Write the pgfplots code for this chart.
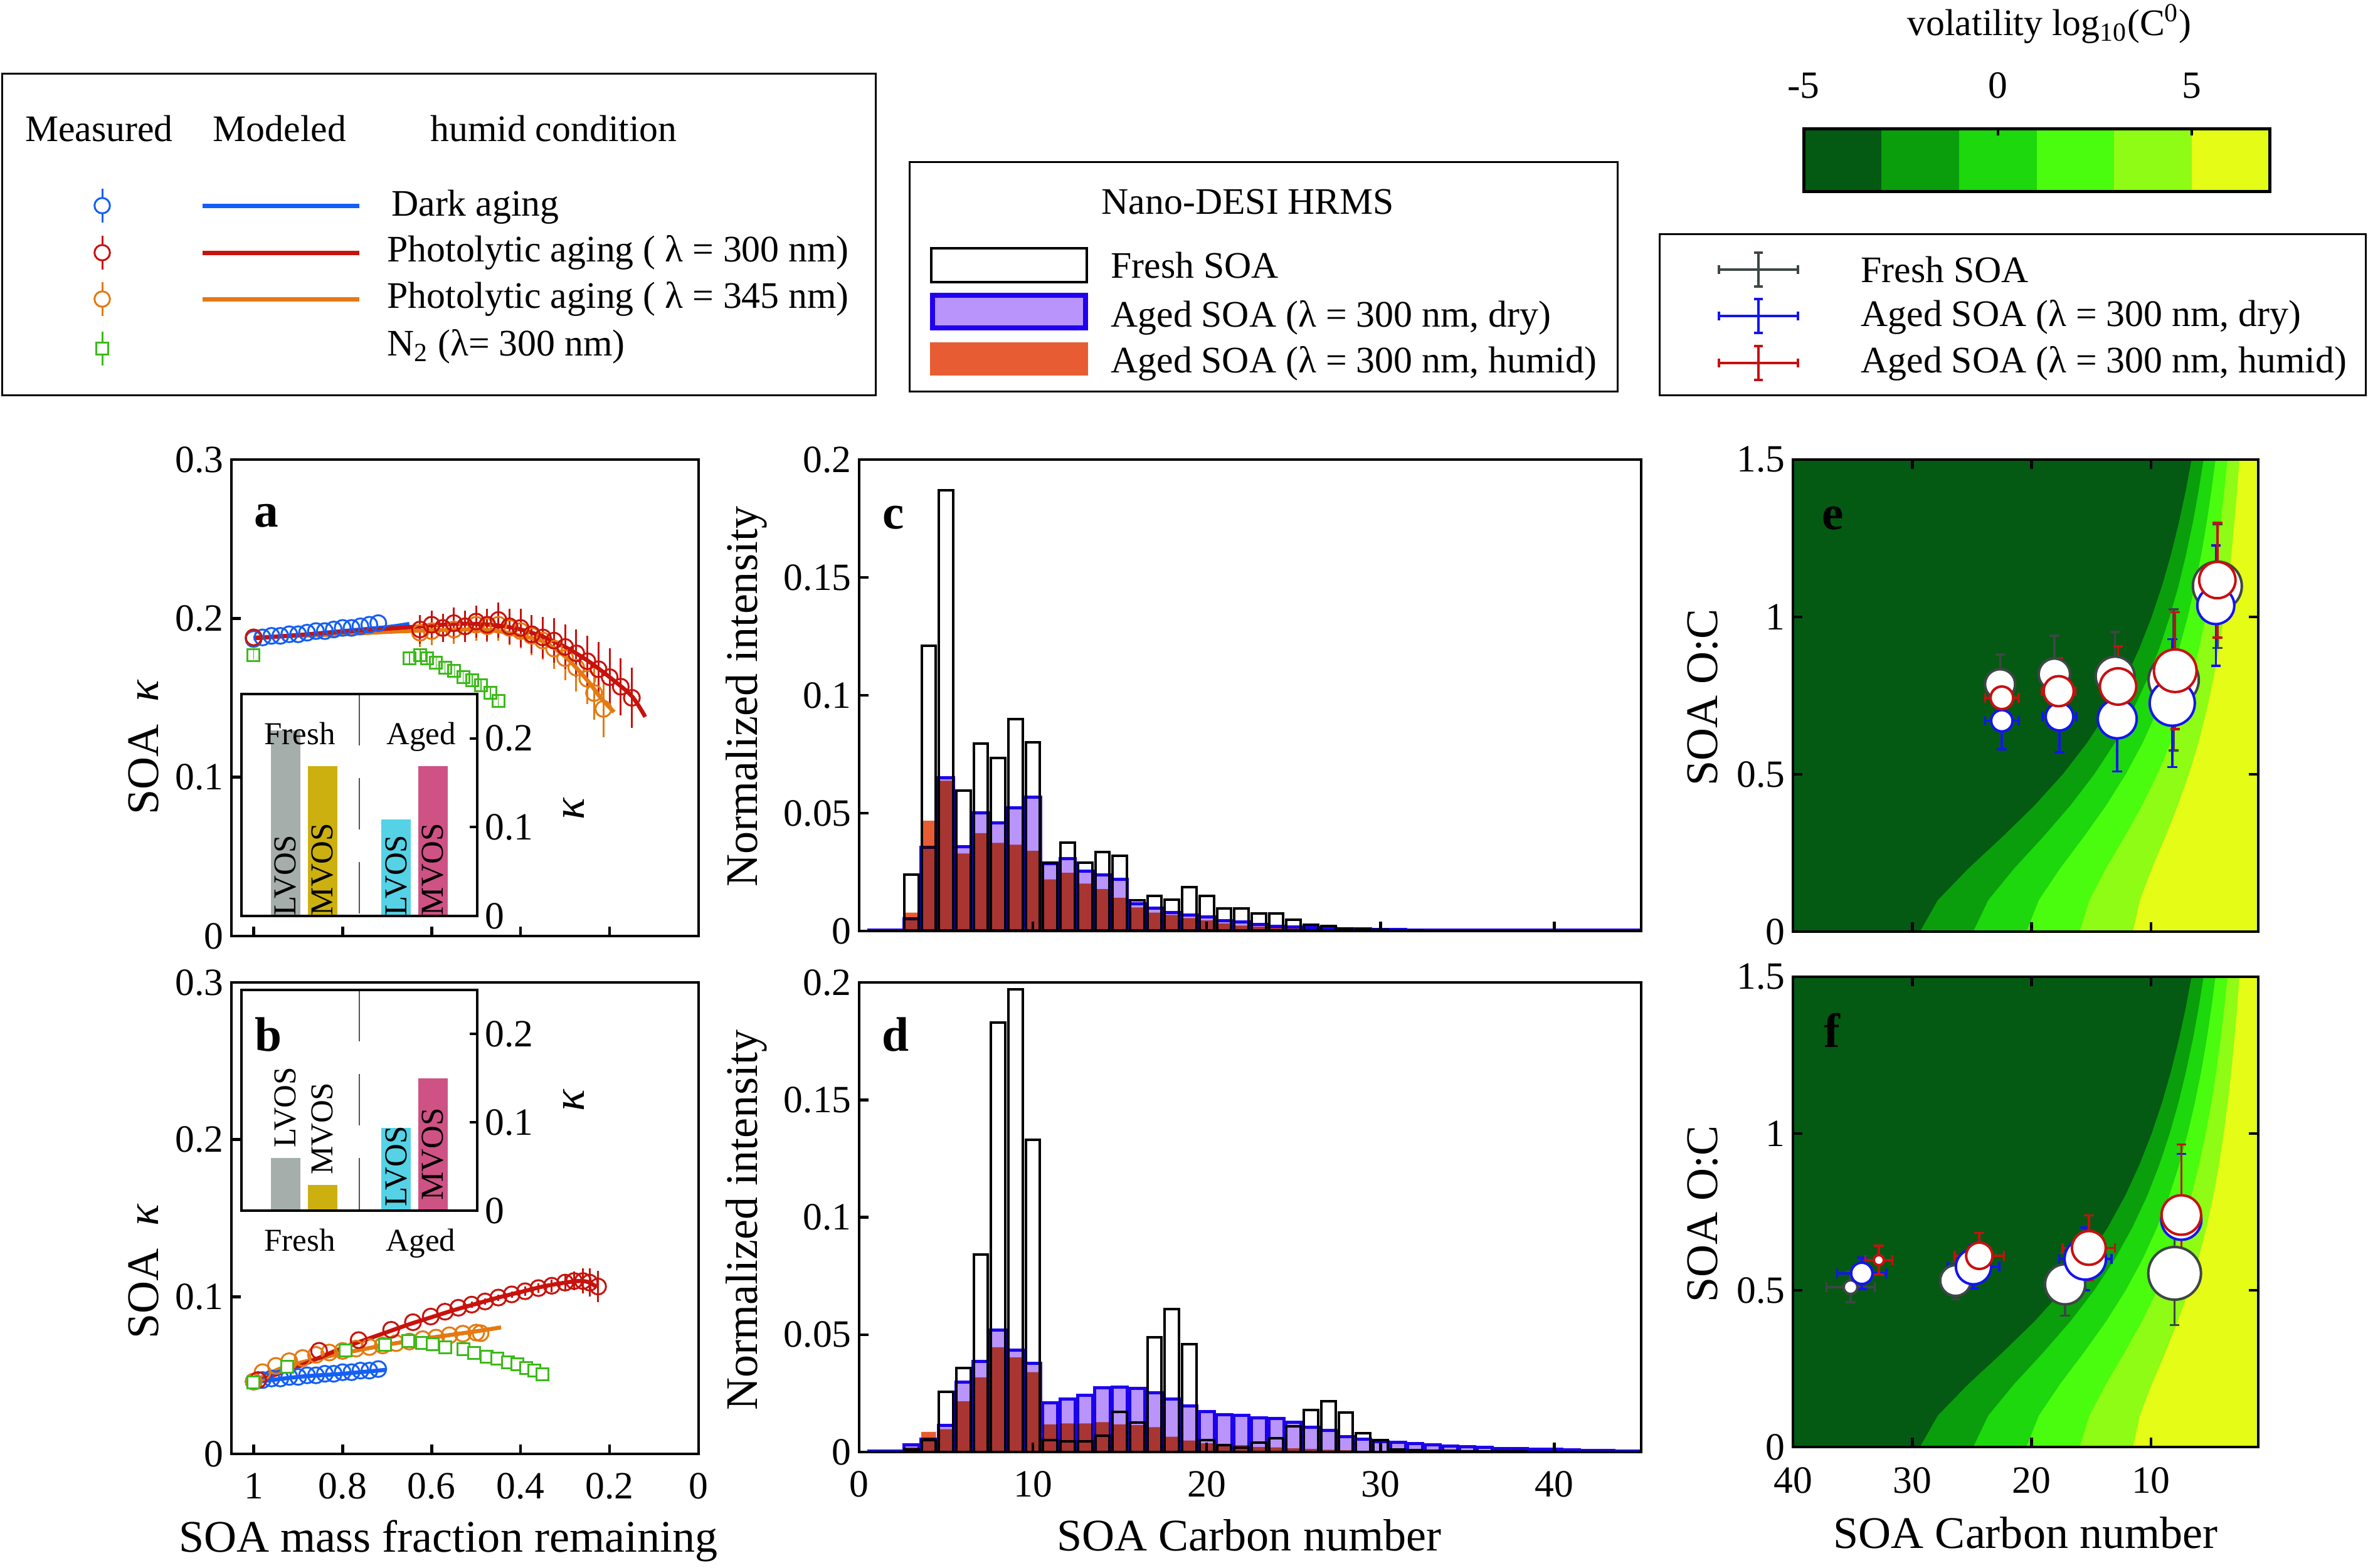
\documentclass[border=0pt]{standalone}
\usepackage{fontspec}
\setmainfont{Liberation Serif}
\usepackage{pgfplots}
\pgfplotsset{compat=1.18}
\usepackage{pgfplotstable}

% ---------- colours ----------
\definecolor{darkline}{RGB}{20,95,245}
\definecolor{uvred}{RGB}{200,18,12}
\definecolor{uvorange}{RGB}{228,122,18}
\definecolor{ntwo}{RGB}{60,186,26}
\definecolor{dryedge}{RGB}{32,0,240}
\definecolor{dryfill}{RGB}{185,148,250}
\definecolor{humidfill}{RGB}{232,92,52}
\definecolor{lvosgray}{RGB}{165,174,170}
\definecolor{mvosgold}{RGB}{204,176,16}
\definecolor{lvoscyan}{RGB}{86,210,230}
\definecolor{mvospink}{RGB}{207,82,133}
\definecolor{freshgray}{RGB}{62,70,70}
\definecolor{dryblue}{RGB}{20,20,240}
\definecolor{humidred}{RGB}{200,16,16}
\definecolor{sepgray}{RGB}{80,88,88}
\definecolor{volA}{RGB}{4,90,18}
\definecolor{volB}{RGB}{10,158,12}
\definecolor{volC}{RGB}{28,216,12}
\definecolor{volD}{RGB}{74,252,14}
\definecolor{volE}{RGB}{142,252,20}
\definecolor{volF}{RGB}{228,252,22}

% ---------- fonts ----------
\newcommand\tickfont{\fontsize{17.5pt}{20pt}\selectfont}
\newcommand\labfont{\fontsize{20.5pt}{24pt}\selectfont}
\newcommand\legfont{\fontsize{17pt}{20pt}\selectfont}
\newcommand\insetfont{\fontsize{14.5pt}{17pt}\selectfont}
\newcommand\panelfont{\fontsize{22pt}{26pt}\selectfont\bfseries}

% ---------- styles ----------
\pgfplotsset{
  panel/.style={scale only axis, anchor=north west, axis on top, clip=true,
    axis line style={line width=0.45mm},
    tick align=inside, major tick length=1.5mm,
    every tick/.style={black, line width=0.45mm},
    tick label style={font=\tickfont}},
  inset/.style={scale only axis, anchor=north west, axis on top, clip=true,
    axis background/.style={fill=white},
    xmin=0, xmax=8, ymin=0, ymax=0.25, xtick=\empty,
    ytick={0,0.1,0.2}, yticklabels={0,0.1,0.2},
    ytick pos=right, yticklabel pos=right,
    tick align=inside, major tick length=1.2mm,
    every tick/.style={black, line width=0.4mm},
    axis line style={line width=0.4mm},
    tick label style={font=\tickfont}},
  meas/.style={only marks, mark=o, mark size=3.6pt, line width=0.3mm},
  model/.style={line width=0.65mm, smooth},
}

% ---------- panel a : kappa vs mass fraction remaining ----------
\pgfplotstableread{
x y
1.00 0.187
0.98 0.188
0.96 0.189
0.94 0.189
0.92 0.190
0.90 0.190
0.88 0.191
0.86 0.192
0.84 0.192
0.82 0.193
0.80 0.194
0.78 0.194
0.76 0.195
0.74 0.196
0.72 0.197
}\aDark
\pgfplotstableread{
x y e
1.000 0.188 0.000
0.626 0.193 0.009
0.600 0.196 0.009
0.575 0.194 0.009
0.550 0.197 0.010
0.525 0.195 0.010
0.500 0.198 0.010
0.475 0.196 0.010
0.450 0.199 0.011
0.425 0.195 0.011
0.400 0.194 0.012
0.375 0.190 0.012
0.350 0.188 0.013
0.325 0.186 0.014
0.300 0.182 0.014
0.275 0.178 0.015
0.250 0.173 0.016
0.225 0.168 0.017
0.200 0.163 0.018
0.175 0.157 0.018
0.150 0.150 0.019
}\aRed
\pgfplotstableread{
x y e
1.000 0.188 0.000
0.626 0.191 0.009
0.600 0.192 0.009
0.575 0.194 0.009
0.550 0.193 0.009
0.525 0.195 0.010
0.500 0.196 0.010
0.475 0.195 0.010
0.450 0.196 0.010
0.425 0.194 0.011
0.400 0.192 0.011
0.375 0.189 0.012
0.350 0.186 0.012
0.325 0.181 0.013
0.300 0.175 0.014
0.275 0.169 0.015
0.250 0.162 0.016
0.235 0.153 0.017
0.214 0.143 0.018
}\aOrange
\pgfplotstableread{
x y e
1.000 0.177 0.003
0.650 0.175 0.004
0.626 0.177 0.004
0.610 0.175 0.004
0.590 0.172 0.004
0.570 0.169 0.004
0.549 0.167 0.004
0.529 0.163 0.004
0.509 0.161 0.004
0.489 0.158 0.004
0.468 0.153 0.004
0.450 0.148 0.004
}\aNtwo

% ---------- panel b ----------
\pgfplotstableread{
x y
1.00 0.046
0.98 0.047
0.96 0.048
0.94 0.048
0.92 0.049
0.90 0.049
0.88 0.050
0.86 0.050
0.84 0.051
0.82 0.051
0.80 0.052
0.78 0.052
0.76 0.053
0.74 0.053
0.72 0.054
}\bDark
\pgfplotstableread{
x y e
0.990 0.0470 0.000
0.853 0.0656 0.000
0.764 0.0724 0.000
0.691 0.0790 0.000
0.642 0.0838 0.000
0.602 0.0874 0.000
0.570 0.0905 0.000
0.540 0.0930 0.000
0.510 0.0950 0.002
0.480 0.0970 0.002
0.450 0.0995 0.002
0.420 0.1015 0.002
0.390 0.1035 0.003
0.360 0.1055 0.003
0.330 0.1070 0.004
0.300 0.1090 0.005
0.280 0.1100 0.006
0.260 0.1100 0.008
0.245 0.1090 0.009
0.226 0.1065 0.010
}\bRed
\pgfplotstableread{
x y
1.00 0.0460
0.98 0.0520
0.95 0.0560
0.92 0.0590
0.89 0.0610
0.86 0.0630
0.83 0.0645
0.80 0.0655
0.77 0.0670
0.74 0.0680
0.71 0.0690
0.68 0.0705
0.65 0.0715
0.62 0.0730
0.59 0.0740
0.56 0.0755
0.53 0.0765
0.50 0.0772
0.49 0.0768
}\bOrange
\pgfplotstableread{
x y
1.000 0.0455
0.924 0.0555
0.794 0.0660
0.705 0.0695
0.653 0.0717
0.621 0.0705
0.598 0.0697
0.570 0.0680
0.529 0.0668
0.505 0.0644
0.477 0.0620
0.452 0.0608
0.428 0.0584
0.408 0.0571
0.388 0.0547
0.369 0.0530
0.351 0.0506
}\bNtwo

% ---------- panels c, d : carbon number distributions (fresh, dry, humid) ----------
\pgfplotstableread{
c f d h
1 0 0.0003 0
2 0 0.0003 0
3 0.0240 0.0052 0.0078
4 0.1210 0.0356 0.0468
5 0.1870 0.0650 0.0637
6 0.0596 0.0359 0.0329
7 0.0795 0.0500 0.0415
8 0.0733 0.0459 0.0374
9 0.0900 0.0523 0.0366
10 0.0800 0.0568 0.0340
11 0.0290 0.0285 0.0219
12 0.0374 0.0308 0.0247
13 0.0290 0.0253 0.0201
14 0.0336 0.0237 0.0178
15 0.0320 0.0219 0.0141
16 0.0130 0.0116 0.0100
17 0.0150 0.0096 0.0078
18 0.0133 0.0079 0.0068
19 0.0185 0.0068 0.0055
20 0.0150 0.0059 0.0045
21 0.0096 0.0045 0.0032
22 0.0096 0.0038 0.0023
23 0.0075 0.0027 0.0018
24 0.0075 0.0020 0.0014
25 0.0048 0.0016 0.0011
26 0.0027 0.0014 0.0008
27 0.0020 0.0012 0.0006
28 0.0011 0.0010 0.0005
29 0.0009 0.0008 0.0004
30 0.0005 0.0007 0.0003
31 0.0003 0.0006 0.0002
32 0.0002 0.0005 0.0002
33 0.0001 0.0004 0.0001
34 0.0001 0.0004 0.0001
35 0 0.0003 0
36 0 0.0003 0
37 0 0.0003 0
38 0 0.0003 0
39 0 0.0003 0
40 0 0.0003 0
41 0 0.0003 0
42 0 0.0003 0
43 0 0.0003 0
44 0 0.0003 0
45 0 0.0003 0
}\cData
\pgfplotstableread{
c f d h
1 0 0.0003 0
2 0 0.0005 0
3 0.0010 0.0030 0.0020
4 0.0050 0.0054 0.0086
5 0.0256 0.0114 0.0097
6 0.0357 0.0297 0.0216
7 0.0840 0.0386 0.0318
8 0.1830 0.0520 0.0446
9 0.1970 0.0435 0.0403
10 0.1330 0.0378 0.0340
11 0.0050 0.0210 0.0118
12 0.0045 0.0227 0.0122
13 0.0045 0.0243 0.0122
14 0.0070 0.0273 0.0127
15 0.0170 0.0276 0.0118
16 0.0125 0.0270 0.0115
17 0.0490 0.0253 0.0106
18 0.0610 0.0227 0.0065
19 0.0460 0.0195 0.0049
20 0.0050 0.0172 0.0037
21 0.0030 0.0160 0.0034
22 0.0020 0.0156 0.0029
23 0.0040 0.0146 0.0021
24 0.0060 0.0143 0.0020
25 0.0110 0.0127 0.0016
26 0.0180 0.0106 0.0013
27 0.0216 0.0091 0.0010
28 0.0167 0.0065 0.0008
29 0.0080 0.0054 0.0006
30 0.0050 0.0045 0.0005
31 0.0010 0.0042 0.0004
32 0.0008 0.0036 0.0003
33 0.0006 0.0030 0.0003
34 0.0005 0.0026 0.0002
35 0.0004 0.0023 0.0002
36 0.0003 0.0020 0.0001
37 0.0002 0.0016 0.0001
38 0.0002 0.0015 0.0001
39 0.0001 0.0013 0
40 0.0001 0.0011 0
41 0 0.0010 0
42 0 0.0008 0
43 0 0.0006 0
44 0 0.0005 0
45 0 0.0004 0
}\dData

% ---------- panels e, f : O:C vs carbon number (r = marker radius in pt) ----------
\pgfplotstableread{
x y ex ey r
22.64 0.786 0 0.094 6.83
18.09 0.818 0 0.122 7.11
13.00 0.812 0 0.140 8.82
8.09 0.800 0 0.224 11.38
4.43 1.098 0 0.197 11.10
}\eFresh
\pgfplotstableread{
x y ex ey r
22.49 0.670 1.41 0.090 4.84
17.66 0.683 1.42 0.113 6.26
12.82 0.676 0 0.167 8.82
8.21 0.726 0 0.203 10.24
4.56 1.036 0 0.191 8.39
}\eDry
\pgfplotstableread{
x y ex ey r
22.49 0.743 1.41 0.089 5.12
17.73 0.764 1.42 0.106 6.83
12.75 0.779 0 0.127 8.25
7.96 0.829 0 0.186 9.67
4.43 1.117 0 0.183 8.25
}\eHumid
\pgfplotstableread{
x y ex ey r
35.17 0.510 2.02 0.048 3.13
26.37 0.531 0 0.060 6.97
17.19 0.519 0 0.100 9.10
8.01 0.554 0 0.165 11.95
}\fFresh
\pgfplotstableread{
x y ex ey r
34.23 0.554 2.06 0.050 4.84
24.87 0.575 2.15 0.070 7.97
15.50 0.600 2.20 0.100 9.39
7.45 0.725 0 0.210 9.10
}\fDry
\pgfplotstableread{
x y ex ey r
32.80 0.596 1.12 0.046 2.28
24.38 0.610 2.06 0.073 5.98
15.20 0.635 2.20 0.104 7.68
7.45 0.740 0 0.225 8.96
}\fHumid

% volatility bins: boundaries log10(C0) = -3, -1, 1, 3, 5 in (carbon number, O:C)
\newcommand\volregions{%
\addplot[fill=volB, draw=none, forget plot] coordinates {(29.35,0) (27.86,0.1) (25.31,0.2) (22.47,0.3) (19.77,0.4) (17.38,0.5) (15.34,0.6) (13.62,0.7) (12.17,0.8) (10.96,0.9) (9.93,1.0) (9.05,1.1) (8.30,1.2) (7.65,1.3) (7.08,1.4) (6.59,1.5) (0,1.5) (0,0)} -- cycle;
\addplot[fill=volC, draw=none, forget plot] coordinates {(24.89,0) (23.63,0.1) (21.47,0.2) (19.05,0.3) (16.76,0.4) (14.74,0.5) (13.01,0.6) (11.55,0.7) (10.32,0.8) (9.29,0.9) (8.42,1.0) (7.67,1.1) (7.04,1.2) (6.48,1.3) (6.00,1.4) (5.58,1.5) (0,1.5) (0,0)} -- cycle;
\addplot[fill=volD, draw=none, forget plot] coordinates {(20.43,0) (19.39,0.1) (17.62,0.2) (15.64,0.3) (13.76,0.4) (12.10,0.5) (10.68,0.6) (9.48,0.7) (8.47,0.8) (7.63,0.9) (6.91,1.0) (6.30,1.1) (5.77,1.2) (5.32,1.3) (4.93,1.4) (4.58,1.5) (0,1.5) (0,0)} -- cycle;
\addplot[fill=volE, draw=none, forget plot] coordinates {(15.97,0) (15.15,0.1) (13.77,0.2) (12.22,0.3) (10.75,0.4) (9.45,0.5) (8.34,0.6) (7.41,0.7) (6.62,0.8) (5.96,0.9) (5.40,1.0) (4.92,1.1) (4.51,1.2) (4.16,1.3) (3.85,1.4) (3.58,1.5) (0,1.5) (0,0)} -- cycle;
\addplot[fill=volF, draw=none, forget plot] coordinates {(11.50,0) (10.92,0.1) (9.92,0.2) (8.80,0.3) (7.75,0.4) (6.81,0.5) (6.01,0.6) (5.34,0.7) (4.77,0.8) (4.29,0.9) (3.89,1.0) (3.55,1.1) (3.25,1.2) (3.00,1.3) (2.77,1.4) (2.58,1.5) (0,1.5) (0,0)} -- cycle;
}

% one O:C series: x error bars under the circles, y error bars on top
\newcommand\ocseries[2]{%
\addplot[draw=none, mark=none, forget plot, error bars/.cd, x dir=both, x explicit,
  error bar style={draw=#1, line width=0.35mm},
  error mark options={rotate=90, draw=#1, mark size=2.2pt, line width=0.35mm}] table[x=x, y=y, x error=ex] {#2};
\addplot[scatter, only marks, mark=*, line width=0.4mm,
  scatter/use mapped color={draw=#1, fill=white},
  visualization depends on={\thisrow{r} \as \rad},
  scatter/@pre marker code/.append style={/tikz/mark size=\rad pt}] table[x=x, y=y] {#2};
\addplot[draw=none, mark=none, forget plot, error bars/.cd, y dir=both, y explicit,
  error bar style={draw=#1, line width=0.35mm},
  error mark options={rotate=90, draw=#1, mark size=2.2pt, line width=0.35mm}] table[x=x, y=y, y error=ey] {#2};
}

% a cross of error bars, for the legend of e and f
\newcommand\legcross[2]{%
\addplot[draw=none, mark=none, error bars/.cd, x dir=both, x fixed=63, y dir=both, y fixed=27,
  error bar style={draw=#1, line width=0.4mm},
  error mark options={rotate=90, draw=#1, mark size=2pt, line width=0.4mm}] coordinates {#2};
}

\begin{document}
\begin{tikzpicture}
\useasboundingbox (0mm,0mm) rectangle (377.6mm,-250.1mm);

% ================= a =================
\begin{axis}[panel, at={(36.9mm,-73.3mm)}, width=74.5mm, height=76mm,
  x dir=reverse, xmin=0, xmax=1.05, ymin=0, ymax=0.3, tick pos=left,
  xtick={0.2,0.4,0.6,0.8,1}, xticklabels={},
  ytick={0,0.1,0.2,0.3}, yticklabels={0,0.1,0.2,0.3}]
\addplot[darkline, meas] table {\aDark};
\addplot[ntwo, only marks, mark=square, mark size=2.7pt, line width=0.3mm,
  error bars/.cd, y dir=both, y explicit, error mark=none] table[x=x, y=y, y error=e] {\aNtwo};
\addplot[uvorange, meas, error bars/.cd, y dir=both, y explicit, error mark=none,
  error bar style={line width=0.3mm}] table[x=x, y=y, y error=e] {\aOrange};
\addplot[uvred, meas, error bars/.cd, y dir=both, y explicit, error mark=none,
  error bar style={line width=0.3mm}] table[x=x, y=y, y error=e] {\aRed};
\addplot[darkline, model] coordinates {(1.0,0.1875) (0.9,0.1895) (0.8,0.192) (0.7,0.1945) (0.65,0.1965)};
\addplot[uvorange, model] coordinates {(1.0,0.188) (0.9,0.189) (0.8,0.190) (0.7,0.1915) (0.6,0.1925) (0.5,0.193) (0.45,0.192) (0.4,0.189) (0.35,0.1855) (0.3,0.176) (0.25,0.161) (0.22,0.150) (0.19,0.141)};
\addplot[uvred, model] coordinates {(1.0,0.1875) (0.9,0.1895) (0.8,0.1915) (0.7,0.1935) (0.6,0.1955) (0.55,0.1965) (0.5,0.1965) (0.45,0.1955) (0.4,0.193) (0.35,0.1885) (0.3,0.182) (0.25,0.1735) (0.2,0.163) (0.15,0.151) (0.12,0.138)};
\end{axis}

\begin{axis}[inset, at={(38.5mm,-110.7mm)}, width=37.6mm, height=35.4mm]
\addplot[ybar, bar width=1, bar shift=0pt, fill=lvosgray, draw=none] coordinates {(1.5,0.209)};
\addplot[ybar, bar width=1, bar shift=0pt, fill=mvosgold, draw=none] coordinates {(2.75,0.169)};
\addplot[ybar, bar width=1, bar shift=0pt, fill=lvoscyan, draw=none] coordinates {(5.25,0.1085)};
\addplot[ybar, bar width=1, bar shift=0pt, fill=mvospink, draw=none] coordinates {(6.5,0.169)};
\addplot[sepgray, line width=0.25mm, dash pattern=on 8.2mm off 5.2mm] coordinates {(4,0.25) (4,0)};
\node[rotate=90, anchor=west, inner sep=0pt, font=\insetfont] at (axis cs:1.5,0) {LVOS};
\node[rotate=90, anchor=west, inner sep=0pt, font=\insetfont] at (axis cs:2.75,0) {MVOS};
\node[rotate=90, anchor=west, inner sep=0pt, font=\insetfont] at (axis cs:5.25,0) {LVOS};
\node[rotate=90, anchor=west, inner sep=0pt, font=\insetfont] at (axis cs:6.5,0) {MVOS};
\node[anchor=base, font=\insetfont, inner sep=0pt] at (axis cs:1.98,0.193) {Fresh};
\node[anchor=base, font=\insetfont, inner sep=0pt] at (axis cs:6.1,0.193) {Aged};
\end{axis}

% ================= b =================
\begin{axis}[panel, at={(36.9mm,-156.7mm)}, width=74.5mm, height=75.2mm,
  x dir=reverse, xmin=0, xmax=1.05, ymin=0, ymax=0.3, tick pos=left,
  xtick={0,0.2,0.4,0.6,0.8,1}, xticklabels={0,0.2,0.4,0.6,0.8,1},
  xticklabel style={yshift=-1.8mm},
  ytick={0,0.1,0.2,0.3}, yticklabels={0,0.1,0.2,0.3}]
\addplot[darkline, meas] table {\bDark};
\addplot[uvorange, meas] table {\bOrange};
\addplot[uvred, meas, error bars/.cd, y dir=both, y explicit, error mark=none,
  error bar style={line width=0.3mm}] table[x=x, y=y, y error=e] {\bRed};
\addplot[darkline, model] coordinates {(1.0,0.0455) (0.9,0.049) (0.8,0.051) (0.703,0.0535)};
\addplot[uvorange, model] coordinates {(1.0,0.046) (0.934,0.055) (0.85,0.061) (0.8,0.064) (0.7,0.0695) (0.6,0.074) (0.5,0.078) (0.444,0.0805)};
\addplot[uvred, model] coordinates {(1.0,0.0455) (0.95,0.0505) (0.9,0.0555) (0.85,0.0615) (0.8,0.0675) (0.75,0.0725) (0.7,0.0775) (0.65,0.0825) (0.6,0.087) (0.55,0.0915) (0.5,0.0955) (0.45,0.0995) (0.4,0.103) (0.35,0.1065) (0.3,0.109) (0.27,0.110) (0.25,0.1095) (0.23,0.1065)};
\addplot[ntwo, only marks, mark=square*, mark options={fill=white}, mark size=2.7pt, line width=0.3mm] table {\bNtwo};
\end{axis}

\begin{axis}[inset, at={(38.5mm,-157.9mm)}, width=37.6mm, height=35.2mm]
\addplot[ybar, bar width=1, bar shift=0pt, fill=lvosgray, draw=none] coordinates {(1.5,0.0596)};
\addplot[ybar, bar width=1, bar shift=0pt, fill=mvosgold, draw=none] coordinates {(2.75,0.029)};
\addplot[ybar, bar width=1, bar shift=0pt, fill=lvoscyan, draw=none] coordinates {(5.25,0.094)};
\addplot[ybar, bar width=1, bar shift=0pt, fill=mvospink, draw=none] coordinates {(6.5,0.150)};
\addplot[sepgray, line width=0.25mm, dash pattern=on 8.2mm off 5.2mm] coordinates {(4,0.25) (4,0)};
\node[rotate=90, anchor=west, inner sep=0pt, font=\insetfont] at (axis cs:1.5,0.071) {LVOS};
\node[rotate=90, anchor=west, inner sep=0pt, font=\insetfont] at (axis cs:2.75,0.040) {MVOS};
\node[rotate=90, anchor=west, inner sep=0pt, font=\insetfont] at (axis cs:5.25,0.004) {LVOS};
\node[rotate=90, anchor=west, inner sep=0pt, font=\insetfont] at (axis cs:6.5,0.011) {MVOS};
\end{axis}

% ================= c =================
\begin{axis}[panel, at={(137.0mm,-73.3mm)}, width=124.7mm, height=75.2mm,
  xmin=0, xmax=45, ymin=0, ymax=0.2, tick pos=left,
  xtick={0,10,20,30,40}, xticklabels={},
  ytick={0,0.05,0.1,0.15,0.2}, yticklabels={0,0.05,0.1,0.15,0.2}]
\addplot[ybar, bar width=0.82, bar shift=0pt, fill=white, draw=black, line width=0.4mm] table[x=c, y=f] {\cData};
\addplot[ybar, bar width=0.87, bar shift=0pt, fill=dryfill, draw=dryedge, line width=0.5mm, blend mode=multiply] table[x=c, y=d] {\cData};
\addplot[ybar, bar width=0.85, bar shift=0pt, fill=humidfill, draw=none, blend mode=multiply] table[x=c, y=h] {\cData};
\end{axis}

% ================= d =================
\begin{axis}[panel, at={(137.0mm,-156.7mm)}, width=124.7mm, height=74.9mm,
  xmin=0, xmax=45, ymin=0, ymax=0.2, tick pos=left,
  xtick={0,10,20,30,40}, xticklabels={0,10,20,30,40},
  xticklabel style={yshift=-1.8mm},
  ytick={0,0.05,0.1,0.15,0.2}, yticklabels={0,0.05,0.1,0.15,0.2}]
\addplot[ybar, bar width=0.82, bar shift=0pt, fill=white, draw=black, line width=0.4mm] table[x=c, y=f] {\dData};
\addplot[ybar, bar width=0.87, bar shift=0pt, fill=dryfill, draw=dryedge, line width=0.5mm, blend mode=multiply] table[x=c, y=d] {\dData};
\addplot[ybar, bar width=0.85, bar shift=0pt, fill=humidfill, draw=none, blend mode=multiply] table[x=c, y=h] {\dData};
\end{axis}

% ================= e =================
\begin{axis}[panel, at={(285.9mm,-73.3mm)}, width=74.2mm, height=75.3mm,
  x dir=reverse, xmin=1, xmax=40, ymin=0, ymax=1.5,
  axis background/.style={fill=volA},
  xtick={10,20,30,40}, xticklabels={},
  ytick={0,0.5,1,1.5}, yticklabels={0,0.5,1,1.5}]
\volregions
\ocseries{freshgray}{\eFresh}
\ocseries{dryblue}{\eDry}
\ocseries{humidred}{\eHumid}
\end{axis}

% ================= f =================
\begin{axis}[panel, at={(285.9mm,-155.8mm)}, width=74.2mm, height=75.0mm,
  x dir=reverse, xmin=1, xmax=40, ymin=0, ymax=1.5,
  axis background/.style={fill=volA},
  xtick={10,20,30,40}, xticklabels={10,20,30,40},
  xticklabel style={yshift=-2.0mm},
  ytick={0,0.5,1,1.5}, yticklabels={0,0.5,1,1.5}]
\volregions
\ocseries{freshgray}{\fFresh}
\ocseries{dryblue}{\fDry}
\ocseries{humidred}{\fHumid}
\end{axis}

% ================= colour bar =================
\begin{axis}[scale only axis, anchor=north west, at={(287.6mm,-20.6mm)}, width=74.3mm, height=10mm,
  xmin=-5, xmax=7, ymin=0, ymax=1, axis on top, ytick=\empty,
  xtick={-5,0,5}, xticklabels={-5,0,5}, xtick pos=right, xticklabel pos=right,
  tick align=inside, major tick length=1mm,
  every tick/.style={black, line width=0.4mm},
  axis line style={line width=0.5mm},
  tick label style={font=\tickfont}, xticklabel style={yshift=3.6mm}]
\addplot[fill=volA, draw=none] coordinates {(-5,0) (-3,0) (-3,1) (-5,1)} -- cycle;
\addplot[fill=volB, draw=none] coordinates {(-3,0) (-1,0) (-1,1) (-3,1)} -- cycle;
\addplot[fill=volC, draw=none] coordinates {(-1,0) (1,0) (1,1) (-1,1)} -- cycle;
\addplot[fill=volD, draw=none] coordinates {(1,0) (3,0) (3,1) (1,1)} -- cycle;
\addplot[fill=volE, draw=none] coordinates {(3,0) (5,0) (5,1) (3,1)} -- cycle;
\addplot[fill=volF, draw=none] coordinates {(5,0) (7,0) (7,1) (5,1)} -- cycle;
\end{axis}

% ================= legends, labels =================
\begin{axis}[scale only axis, anchor=north west, at={(0mm,0mm)}, width=377.6mm, height=250.1mm,
  xmin=0, xmax=3776, ymin=0, ymax=2501, y dir=reverse, hide axis, clip=false,
  xtick=\empty, ytick=\empty,
  every node/.append style={inner sep=0pt}]
% legend of a, b
\draw[line width=0.3mm] (axis cs:3,117) rectangle (axis cs:1396,630);
\node[font=\legfont] at (axis cs:158,205) {Measured};
\node[font=\legfont] at (axis cs:446,205) {Modeled};
\node[font=\legfont] at (axis cs:883,205) {humid condition};
\addplot[darkline, line width=0.3mm] coordinates {(163,301) (163,355)};
\addplot[darkline, only marks, mark=*, mark size=3.5pt, mark options={fill=white, line width=0.3mm}] coordinates {(163,328)};
\addplot[uvred, line width=0.3mm] coordinates {(163,376) (163,430)};
\addplot[uvred, only marks, mark=*, mark size=3.5pt, mark options={fill=white, line width=0.3mm}] coordinates {(163,403)};
\addplot[uvorange, line width=0.3mm] coordinates {(163,450) (163,504)};
\addplot[uvorange, only marks, mark=*, mark size=3.5pt, mark options={fill=white, line width=0.3mm}] coordinates {(163,477)};
\addplot[ntwo, line width=0.3mm] coordinates {(163,529) (163,583)};
\addplot[ntwo, only marks, mark=square*, mark size=2.6pt, mark options={fill=white, line width=0.3mm}] coordinates {(163,556)};
\addplot[darkline, line width=0.7mm] coordinates {(323,328) (573,328)};
\addplot[uvred, line width=0.7mm] coordinates {(323,403) (573,403)};
\addplot[uvorange, line width=0.7mm] coordinates {(323,477) (573,477)};
\node[font=\legfont, anchor=west] at (axis cs:612,330) {Dark aging};
\node[font=\legfont, anchor=west] at (axis cs:605,403) {Photolytic aging ( λ = 300 nm)};
\node[font=\legfont, anchor=west] at (axis cs:605,477) {Photolytic aging ( λ = 345 nm)};
\node[font=\legfont, anchor=west] at (axis cs:605,553) {N\textsubscript{2} (λ= 300 nm)};
% legend of c, d
\draw[line width=0.3mm] (axis cs:1450,258) rectangle (axis cs:2579,624);
\node[font=\legfont] at (axis cs:1990,322) {Nano-DESI HRMS};
\addplot[draw=black, line width=0.4mm, fill=white] coordinates {(1485,396) (1733,396) (1733,450) (1485,450)} -- cycle;
\addplot[draw=dryedge, line width=0.8mm, fill=dryfill] coordinates {(1487,471) (1731,471) (1731,523) (1487,523)} -- cycle;
\addplot[draw=none, fill=humidfill] coordinates {(1483,546) (1735,546) (1735,599) (1483,599)} -- cycle;
\node[font=\legfont, anchor=west] at (axis cs:1759,423) {Fresh SOA};
\node[font=\legfont, anchor=west] at (axis cs:1759,507) {Aged SOA (λ = 300 nm, dry)};
\node[font=\legfont, anchor=west] at (axis cs:1759,580) {Aged SOA (λ = 300 nm, humid)};
% colour bar title
\node[font=\legfont] at (axis cs:3268,38) {volatility log\textsubscript{10}(C\textsuperscript{0})};
% legend of e, f
\draw[line width=0.3mm] (axis cs:2646,373) rectangle (axis cs:3772,630);
\legcross{freshgray}{(2804,430)}
\legcross{dryblue}{(2804,504)}
\legcross{humidred}{(2804,579)}
\node[font=\legfont, anchor=west] at (axis cs:2955,430) {Fresh SOA};
\node[font=\legfont, anchor=west] at (axis cs:2955,506) {Aged SOA (λ = 300 nm, dry)};
\node[font=\legfont, anchor=west] at (axis cs:2955,580) {Aged SOA (λ = 300 nm, humid)};
% panel letters
\node[font=\panelfont, anchor=base] at (axis cs:425,840) {a};
\node[font=\panelfont, anchor=base] at (axis cs:428,1676) {b};
\node[font=\panelfont, anchor=base] at (axis cs:1425,843) {c};
\node[font=\panelfont, anchor=base] at (axis cs:1428,1676) {d};
\node[font=\panelfont, anchor=base] at (axis cs:2923,844) {e};
\node[font=\panelfont, anchor=base] at (axis cs:2921,1670) {f};
% axis labels
\node[font=\labfont, rotate=90] at (axis cs:229,1192) {SOA~~{\itshape κ}};
\node[font=\labfont, rotate=90] at (axis cs:229,2028) {SOA~~{\itshape κ}};
\node[font=\labfont, rotate=90] at (axis cs:915,1290) {\itshape κ};
\node[font=\labfont, rotate=90] at (axis cs:915,1755) {\itshape κ};
\node[font=\insetfont, anchor=base] at (axis cs:478,1995) {Fresh};
\node[font=\insetfont, anchor=base] at (axis cs:671,1995) {Aged};
\node[font=\labfont] at (axis cs:715,2458) {SOA mass fraction remaining};
\node[font=\labfont, rotate=90] at (axis cs:1190,1111) {Normalized intensity};
\node[font=\labfont, rotate=90] at (axis cs:1190,1946) {Normalized intensity};
\node[font=\labfont] at (axis cs:1992,2449) {SOA Carbon number};
\node[font=\labfont, rotate=90] at (axis cs:2715,1112) {SOA O:C};
\node[font=\labfont, rotate=90] at (axis cs:2715,1936) {SOA O:C};
\node[font=\labfont] at (axis cs:3230,2445) {SOA Carbon number};
\end{axis}
\end{tikzpicture}
\end{document}
